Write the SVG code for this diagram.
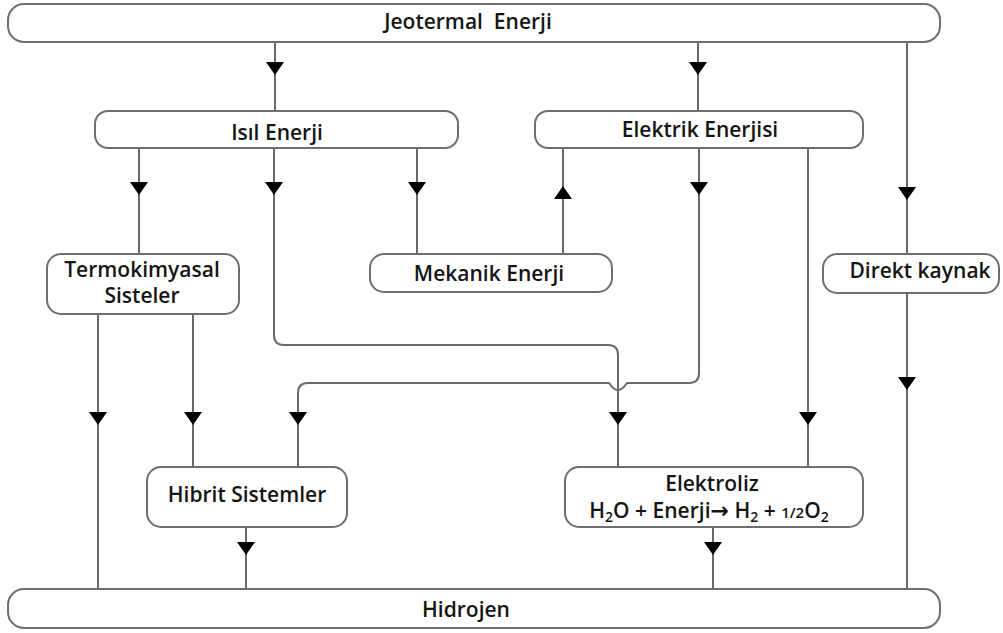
<svg xmlns="http://www.w3.org/2000/svg" xmlns:xlink="http://www.w3.org/1999/xlink" width="1003" height="633" viewBox="0 0 1003 633">
<style>
.box{fill:#fff;stroke:#6e6e6e;stroke-width:2}
.ln{fill:none;stroke:#6a6a6a;stroke-width:2}
.t{font-family:"Open Sans","Liberation Sans",sans-serif;font-size:21px;font-weight:600;fill:#151515;text-anchor:middle;white-space:pre}
.ah{fill:#000}
</style>
<defs>
<path id="ad" class="ah" d="M-9,-6 L9,-6 L0,7 Z"/>
<path id="au" class="ah" d="M-9,6 L9,6 L0,-7 Z"/>
</defs>
<rect width="1003" height="633" fill="#fff"/>
<g id="connectors">
<path class="ln" d="M275,42 V111"/>
<path class="ln" d="M698,42 V111"/>
<path class="ln" d="M907,42 V254"/>
<path class="ln" d="M139,148 V254"/>
<path class="ln" d="M274,148 V335 Q274,345 284,345 H608 Q618,345 618,355 V467"/>
<path class="ln" d="M417,148 V254"/>
<path class="ln" d="M563,254 V148"/>
<path class="ln" d="M699,148 V373 Q699,383 689,383 H627 Q618,397 609,383 H308 Q298,383 298,393 V467"/>
<path class="ln" d="M808,148 V467"/>
<path class="ln" d="M98,314 V589"/>
<path class="ln" d="M193,314 V467"/>
<path class="ln" d="M907,293 V589"/>
<path class="ln" d="M246,527 V589"/>
<path class="ln" d="M713,527 V589"/>
<use xlink:href="#ad" x="275" y="68"/>
<use xlink:href="#ad" x="698" y="68"/>
<use xlink:href="#ad" x="907" y="193"/>
<use xlink:href="#ad" x="139" y="188"/>
<use xlink:href="#ad" x="274" y="188"/>
<use xlink:href="#ad" x="417" y="188"/>
<use xlink:href="#au" x="563" y="193"/>
<use xlink:href="#ad" x="699" y="188"/>
<use xlink:href="#ad" x="808" y="418"/>
<use xlink:href="#ad" x="618" y="418"/>
<use xlink:href="#ad" x="298" y="418"/>
<use xlink:href="#ad" x="98" y="418"/>
<use xlink:href="#ad" x="193" y="418"/>
<use xlink:href="#ad" x="907" y="383"/>
<use xlink:href="#ad" x="246" y="548"/>
<use xlink:href="#ad" x="713" y="548"/>
</g>
<g id="jeotermal">
<rect class="box" x="8" y="4" width="932" height="38" rx="16"/>
<text class="t" x="468" y="29" xml:space="preserve">Jeotermal  Enerji</text>
</g>
<g id="isil">
<rect class="box" x="95" y="111" width="363" height="37" rx="13"/>
<text class="t" x="277" y="140">Isıl Enerji</text>
</g>
<g id="elektrik">
<rect class="box" x="535" y="111" width="328" height="37" rx="13"/>
<text class="t" x="700" y="137">Elektrik Enerjisi</text>
</g>
<g id="termokimyasal">
<rect class="box" x="47" y="254" width="192" height="60" rx="14"/>
<text class="t" x="142" y="277" font-size="19">Termokimyasal</text>
<text class="t" x="142" y="303" font-size="19">Sisteler</text>
</g>
<g id="mekanik">
<rect class="box" x="370" y="254" width="242" height="38" rx="14"/>
<text class="t" x="489" y="281">Mekanik Enerji</text>
</g>
<g id="direkt">
<rect class="box" x="823" y="254" width="176" height="39" rx="14"/>
<text class="t" x="920" y="278">Direkt kaynak</text>
</g>
<g id="hibrit">
<rect class="box" x="147" y="467" width="200" height="60" rx="14"/>
<text class="t" x="247" y="502">Hibrit Sistemler</text>
</g>
<g id="elektroliz">
<rect class="box" x="565" y="467" width="298" height="60" rx="14"/>
<text class="t" x="712" y="491">Elektroliz</text>
<text class="t" x="709" y="518">H<tspan font-size="14" dy="4">2</tspan><tspan dy="-4">O + Enerji</tspan><tspan font-family="DejaVu Sans" font-weight="bold" font-size="22">→</tspan> H<tspan font-size="14" dy="4">2</tspan><tspan dy="-4"> + </tspan><tspan font-size="15">1/2</tspan>O<tspan font-size="14" dy="4">2</tspan></text>
</g>
<g id="hidrojen">
<rect class="box" x="8" y="589" width="932" height="39" rx="16"/>
<text class="t" x="466" y="617">Hidrojen</text>
</g>
</svg>
